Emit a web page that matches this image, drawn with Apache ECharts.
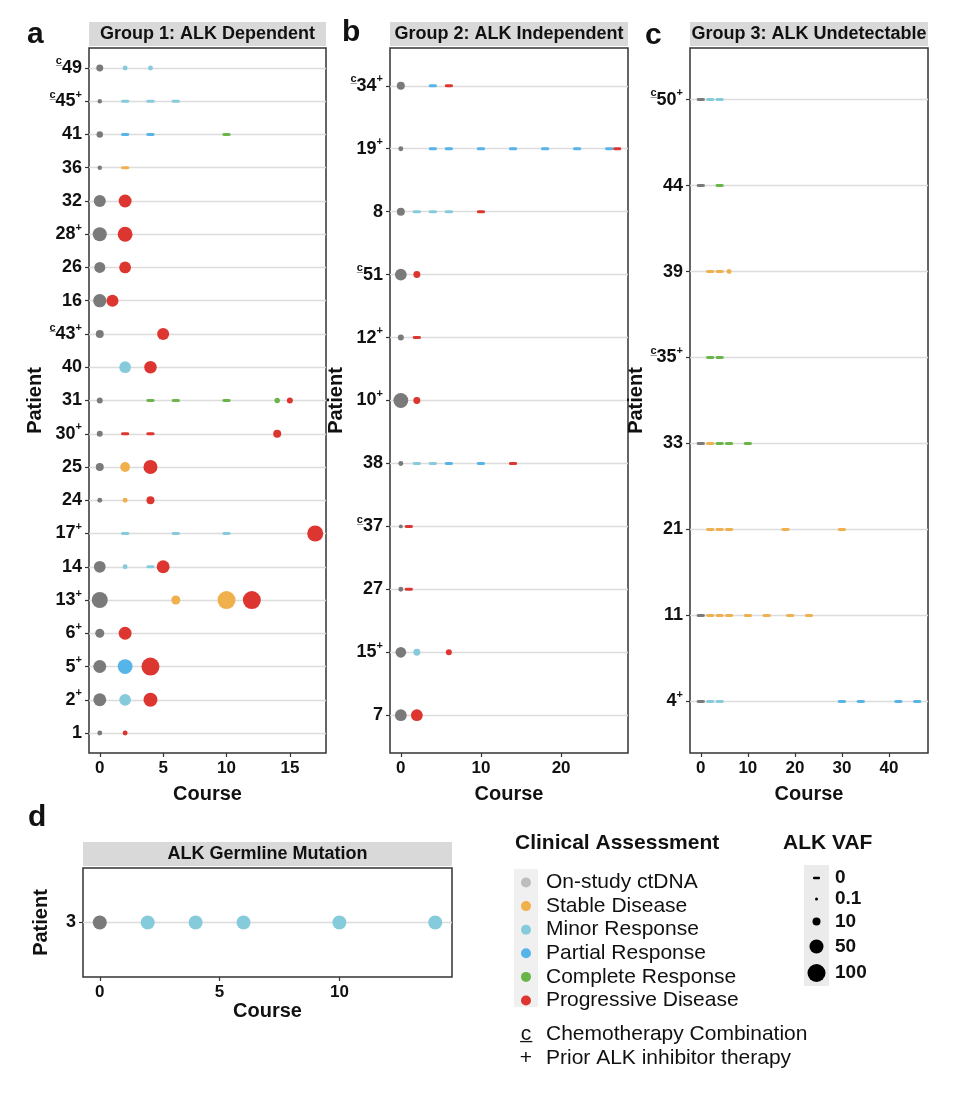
<!DOCTYPE html>
<html>
<head>
<meta charset="utf-8">
<script src="https://cdn.jsdelivr.net/npm/echarts@6/dist/echarts.min.js"></script>
<style>
html,body{margin:0;padding:0;background:#fff;}
#chart{width:960px;height:1094px;}
</style>
</head>
<body>
<div id="chart"></div>
<script>
// ---------------- DATA ----------------
const statusKeys  = ['ON', 'SD', 'MR', 'PR', 'CR', 'PD'];
const statusNames = ['On-study ctDNA', 'Stable Disease', 'Minor Response', 'Partial Response', 'Complete Response', 'Progressive Disease'];

// patient labels: leading "c" = chemotherapy combination, trailing "+" = prior ALK inhibitor therapy
const patientsA = ['c49', 'c45+', '41', '36', '32', '28+', '26', '16', 'c43+', '40', '31', '30+', '25', '24', '17+', '14', '13+', '6+', '5+', '2+', '1'];
const patientsB = ['c34+', '19+', '8', 'c51', '12+', '10+', '38', 'c37', '27', '15+', '7'];
const patientsC = ['c50+', '44', '39', 'c35+', '33', '21', '11', '4+'];
const patientsD = ['3'];

// [patient, course, clinical assessment, ALK VAF (%)]
const pointsA = [
  ['c49', 0, 'ON', 8], ['c49', 2, 'MR', 4], ['c49', 4, 'MR', 4],
  ['c45+', 0, 'ON', 3], ['c45+', 2, 'MR', 0], ['c45+', 4, 'MR', 0], ['c45+', 6, 'MR', 0],
  ['41', 0, 'ON', 7], ['41', 2, 'PR', 0], ['41', 4, 'PR', 0], ['41', 10, 'CR', 0],
  ['36', 0, 'ON', 3], ['36', 2, 'SD', 0],
  ['32', 0, 'ON', 37], ['32', 2, 'PD', 43],
  ['28+', 0, 'ON', 50], ['28+', 2, 'PD', 60],
  ['26', 0, 'ON', 30], ['26', 2, 'PD', 35],
  ['16', 0, 'ON', 45], ['16', 1, 'PD', 37],
  ['c43+', 0, 'ON', 10], ['c43+', 5, 'PD', 37],
  ['40', 2, 'MR', 35], ['40', 4, 'PD', 40],
  ['31', 0, 'ON', 6], ['31', 4, 'CR', 0], ['31', 6, 'CR', 0], ['31', 10, 'CR', 0], ['31', 14, 'CR', 5], ['31', 15, 'PD', 6],
  ['30+', 0, 'ON', 6], ['30+', 2, 'PD', 0], ['30+', 4, 'PD', 0], ['30+', 14, 'PD', 10],
  ['25', 0, 'ON', 10], ['25', 2, 'SD', 22], ['25', 4, 'PD', 50],
  ['24', 0, 'ON', 4], ['24', 2, 'SD', 4], ['24', 4, 'PD', 10],
  ['17+', 2, 'MR', 0], ['17+', 6, 'MR', 0], ['17+', 10, 'MR', 0], ['17+', 17, 'PD', 75],
  ['14', 0, 'ON', 35], ['14', 2, 'MR', 4], ['14', 4, 'MR', 0], ['14', 5, 'PD', 43],
  ['13+', 0, 'ON', 75], ['13+', 6, 'SD', 17], ['13+', 10, 'SD', 100], ['13+', 12, 'PD', 100],
  ['6+', 0, 'ON', 17], ['6+', 2, 'PD', 43],
  ['5+', 0, 'ON', 43], ['5+', 2, 'PR', 60], ['5+', 4, 'PD', 100],
  ['2+', 0, 'ON', 43], ['2+', 2, 'MR', 35], ['2+', 4, 'PD', 50],
  ['1', 0, 'ON', 4], ['1', 2, 'PD', 4]
];
const pointsB = [
  ['c34+', 0, 'ON', 10], ['c34+', 4, 'PR', 0], ['c34+', 6, 'PD', 0],
  ['19+', 0, 'ON', 4], ['19+', 4, 'PR', 0], ['19+', 6, 'PR', 0], ['19+', 10, 'PR', 0], ['19+', 14, 'PR', 0],
  ['19+', 18, 'PR', 0], ['19+', 22, 'PR', 0], ['19+', 26, 'PR', 0], ['19+', 27, 'PD', 0],
  ['8', 0, 'ON', 10], ['8', 2, 'MR', 0], ['8', 4, 'MR', 0], ['8', 6, 'MR', 0], ['8', 10, 'PD', 0],
  ['c51', 0, 'ON', 35], ['c51', 2, 'PD', 8],
  ['12+', 0, 'ON', 6], ['12+', 2, 'PD', 0],
  ['10+', 0, 'ON', 60], ['10+', 2, 'PD', 8],
  ['38', 0, 'ON', 4], ['38', 2, 'MR', 0], ['38', 4, 'MR', 0], ['38', 6, 'PR', 0], ['38', 10, 'PR', 0], ['38', 14, 'PD', 0],
  ['c37', 0, 'ON', 2], ['c37', 1, 'PD', 0],
  ['27', 0, 'ON', 4], ['27', 1, 'PD', 0],
  ['15+', 0, 'ON', 28], ['15+', 2, 'MR', 8], ['15+', 6, 'PD', 6],
  ['7', 0, 'ON', 35], ['7', 2, 'PD', 35]
];
const pointsC = [
  ['c50+', 0, 'ON', 0], ['c50+', 2, 'MR', 0], ['c50+', 4, 'MR', 0],
  ['44', 0, 'ON', 0], ['44', 4, 'CR', 0],
  ['39', 2, 'SD', 0], ['39', 4, 'SD', 0], ['39', 6, 'SD', 4],
  ['c35+', 2, 'CR', 0], ['c35+', 4, 'CR', 0],
  ['33', 0, 'ON', 0], ['33', 2, 'SD', 0], ['33', 4, 'CR', 0], ['33', 6, 'CR', 0], ['33', 10, 'CR', 0],
  ['21', 2, 'SD', 0], ['21', 4, 'SD', 0], ['21', 6, 'SD', 0], ['21', 18, 'SD', 0], ['21', 30, 'SD', 0],
  ['11', 0, 'ON', 0], ['11', 2, 'SD', 0], ['11', 4, 'SD', 0], ['11', 6, 'SD', 0], ['11', 10, 'SD', 0],
  ['11', 14, 'SD', 0], ['11', 19, 'SD', 0], ['11', 23, 'SD', 0],
  ['4+', 0, 'ON', 0], ['4+', 2, 'MR', 0], ['4+', 4, 'MR', 0], ['4+', 30, 'PR', 0], ['4+', 34, 'PR', 0],
  ['4+', 42, 'PR', 0], ['4+', 46, 'PR', 0]
];
const pointsD = [
  ['3', 0, 'ON', 50], ['3', 2, 'MR', 50], ['3', 4, 'MR', 50], ['3', 6, 'MR', 50], ['3', 10, 'MR', 50], ['3', 14, 'MR', 50]
];

const ticksA = [0, 5, 10, 15];
const ticksB = [0, 10, 20];
const ticksC = [0, 10, 20, 30, 40];
const ticksD = [0, 5, 10];

const stripTitles = ['Group 1: ALK Dependent', 'Group 2: ALK Independent', 'Group 3: ALK Undetectable', 'ALK Germline Mutation'];
const panelLetters = ['a', 'b', 'c', 'd'];

const vafBreaks = [0, 0.1, 10, 50, 100];
const vafBreakLabels = ['0', '0.1', '10', '50', '100'];
const footnotes = [['c\u0332', 'Chemotherapy Combination'], ['+', 'Prior ALK inhibitor therapy']];

// ---------------- STYLE ----------------
const FONT = '"Liberation Sans", Arial, Helvetica, sans-serif';
const statusColors = ['#7a7a7a', '#f0b04c', '#86cbdc', '#56b4e9', '#6ab547', '#dd3530'];
const legendColors = ['#bdbdbd', '#f0b04c', '#86cbdc', '#56b4e9', '#6ab547', '#dd3530'];
const sizeStops = [[0.1, 3], [10, 8], [50, 14], [100, 18]];   // VAF -> circle diameter (px)
const DASH = [8, 3];
function vafToDiam(v) {
  if (v <= sizeStops[0][0]) return sizeStops[0][1];
  for (let i = 1; i < sizeStops.length; i++) {
    const [v0, d0] = sizeStops[i - 1], [v1, d1] = sizeStops[i];
    if (v <= v1) return d0 + (d1 - d0) * (v - v0) / (v1 - v0);
  }
  return sizeStops[sizeStops.length - 1][1];
}

const panels = [
  { patients: patientsA, points: pointsA, ticks: ticksA, grid: { left: 89, top: 48, width: 237, height: 705 }, yGap: 32, xGap: 31 },
  { patients: patientsB, points: pointsB, ticks: ticksB, grid: { left: 390, top: 48, width: 238, height: 705 }, yGap: 31, xGap: 31 },
  { patients: patientsC, points: pointsC, ticks: ticksC, grid: { left: 690, top: 48, width: 238, height: 705 }, yGap: 28, xGap: 31 },
  { patients: patientsD, points: pointsD, ticks: ticksD, grid: { left: 83, top: 868, width: 369, height: 109 }, yGap: 32, xGap: 24 }
];

const RICH = {
  n: { fontSize: 18, fontWeight: 'bold', color: '#111', fontFamily: FONT, lineHeight: 24 },
  c: { fontSize: 11, fontWeight: 'bold', color: '#111', fontFamily: FONT, lineHeight: 12, verticalAlign: 'top' },
  p: { fontSize: 11, fontWeight: 'bold', color: '#111', fontFamily: FONT, lineHeight: 12, verticalAlign: 'top' }
};
function patientFormatter(list) {
  return function (v) {
    const lab = list[Math.round(v)];
    if (lab == null) return '';
    let t = lab, s = '';
    if (t[0] === 'c') { s += '{c|c\u0332}'; t = t.slice(1); }
    let plus = false;
    if (t[t.length - 1] === '+') { plus = true; t = t.slice(0, -1); }
    s += '{n|' + t + '}';
    if (plus) s += '{p|+}';
    return s;
  };
}

const titleStyle = { fontSize: 20, fontWeight: 'bold', color: '#111', fontFamily: FONT };

const grids = [], xAxes = [], yAxes = [], series = [];
panels.forEach((p, pi) => {
  grids.push(Object.assign({ show: true, borderColor: '#333', borderWidth: 1.5, backgroundColor: '#fff', containLabel: false }, p.grid));
  const courses = p.points.map(d => d[1]);
  const xMaxData = Math.max.apply(null, courses);
  const idx = p.patients.map((_, i) => i);
  xAxes.push({
    type: 'value', gridIndex: pi, position: 'bottom', min: -0.05 * xMaxData, max: 1.05 * xMaxData,
    name: 'Course', nameLocation: 'middle', nameGap: p.xGap, nameTextStyle: titleStyle,
    axisLine: { show: false, onZero: false },
    axisTick: { show: true, length: 4, customValues: p.ticks, lineStyle: { color: '#333', width: 1.2 } },
    axisLabel: { customValues: p.ticks, margin: 7, fontSize: 17, fontWeight: 'bold', color: '#111', fontFamily: FONT },
    splitLine: { show: false }
  });
  yAxes.push({
    type: 'value', gridIndex: pi, position: 'left', inverse: true, min: -0.6, max: p.patients.length - 0.4,
    name: 'Patient', nameLocation: 'middle', nameGap: p.yGap, nameTextStyle: titleStyle,
    axisLine: { show: false, onZero: false },
    axisTick: { show: true, length: 4, customValues: idx, lineStyle: { color: '#333', width: 1.2 } },
    axisLabel: { customValues: idx, margin: 7, formatter: patientFormatter(p.patients), rich: RICH },
    splitLine: { show: true, lineStyle: { color: '#dcdcdc', width: 1.3 } }
  });
  statusKeys.forEach((k, si) => {
    const data = p.points.filter(d => d[2] === k).map(d => [d[1], p.patients.indexOf(d[0]), d[3]]);
    if (!data.length) return;
    series.push({
      type: 'scatter', name: statusNames[si], xAxisIndex: pi, yAxisIndex: pi, data: data,
      symbol: v => (v[2] === 0 ? 'roundRect' : 'circle'),
      symbolSize: v => (v[2] === 0 ? DASH : vafToDiam(v[2])),
      itemStyle: { color: statusColors[si], opacity: 1 },
      emphasis: { disabled: true }, silent: true, z: 3
    });
  });
});

// ---------------- GRAPHICS (strips, letters, legends) ----------------
const graphic = [];
const letterPos = [[27, 35], [342, 33], [645, 36], [28, 818]];
panels.forEach((p, pi) => {
  const g = p.grid;
  graphic.push({ type: 'rect', shape: { x: g.left, y: g.top - 26, width: g.width, height: 24 }, style: { fill: '#d9d9d9' }, silent: true });
  graphic.push({ type: 'text', x: g.left + g.width / 2, y: g.top - 14, style: { text: stripTitles[pi], fontSize: 18, fontWeight: 'bold', fontFamily: FONT, fill: '#111', align: 'center', verticalAlign: 'middle' }, silent: true });
  graphic.push({ type: 'text', x: letterPos[pi][0], y: letterPos[pi][1], style: { text: panelLetters[pi], fontSize: 30, fontWeight: 'bold', fontFamily: FONT, fill: '#111', align: 'left', verticalAlign: 'middle' }, silent: true });
});
// clinical assessment legend title and key background
graphic.push({ type: 'text', x: 515, y: 843, style: { text: 'Clinical Assessment', fontSize: 21, fontWeight: 'bold', fontFamily: FONT, fill: '#111', align: 'left', verticalAlign: 'middle' }, silent: true });
graphic.push({ type: 'rect', shape: { x: 514, y: 869, width: 24, height: 138 }, style: { fill: '#f0f0f0' }, silent: true, z: -1 });
// VAF legend
graphic.push({ type: 'text', x: 783, y: 843, style: { text: 'ALK VAF', fontSize: 21, fontWeight: 'bold', fontFamily: FONT, fill: '#111', align: 'left', verticalAlign: 'middle' }, silent: true });
graphic.push({ type: 'rect', shape: { x: 804, y: 865, width: 25, height: 121 }, style: { fill: '#ebebeb' }, silent: true });
const vafKeyY = [878, 899, 921.5, 946.5, 973];
vafBreaks.forEach((v, i) => {
  if (v === 0) {
    graphic.push({ type: 'rect', shape: { x: 813, y: vafKeyY[i] - 1.2, width: 7, height: 2.4, r: 1 }, style: { fill: '#000' }, silent: true });
  } else {
    graphic.push({ type: 'circle', shape: { cx: 816.5, cy: vafKeyY[i], r: vafToDiam(v) / 2 }, style: { fill: '#000' }, silent: true });
  }
  graphic.push({ type: 'text', x: 835, y: vafKeyY[i], style: { text: vafBreakLabels[i], fontSize: 19, fontWeight: 'bold', fontFamily: FONT, fill: '#111', align: 'left', verticalAlign: 'middle' }, silent: true });
});
// footnotes
footnotes.forEach((f, i) => {
  const y = 1034 + i * 24;
  graphic.push({ type: 'text', x: 526, y: y, style: { text: f[0], fontSize: 21, fontFamily: FONT, fill: '#111', align: 'center', verticalAlign: 'middle' }, silent: true });
  graphic.push({ type: 'text', x: 546, y: y, style: { text: f[1], fontSize: 21, fontFamily: FONT, fill: '#111', align: 'left', verticalAlign: 'middle' }, silent: true });
});

const chart = echarts.init(document.getElementById('chart'), null, { renderer: 'canvas' });
chart.setOption({
  animation: false,
  backgroundColor: '#fff',
  grid: grids,
  xAxis: xAxes,
  yAxis: yAxes,
  series: series,
  legend: {
    orient: 'vertical', left: 521, top: 872, padding: 0, itemWidth: 20, itemHeight: 10, itemGap: 2.6,
    icon: 'circle', selectedMode: false,
    textStyle: { fontSize: 21, color: '#111', fontFamily: FONT, lineHeight: 17, padding: [0, 0, 0, 5] },
    data: statusNames.map((n, i) => ({ name: n, itemStyle: { color: legendColors[i] } }))
  },
  graphic: graphic
});
</script>
</body>
</html>
